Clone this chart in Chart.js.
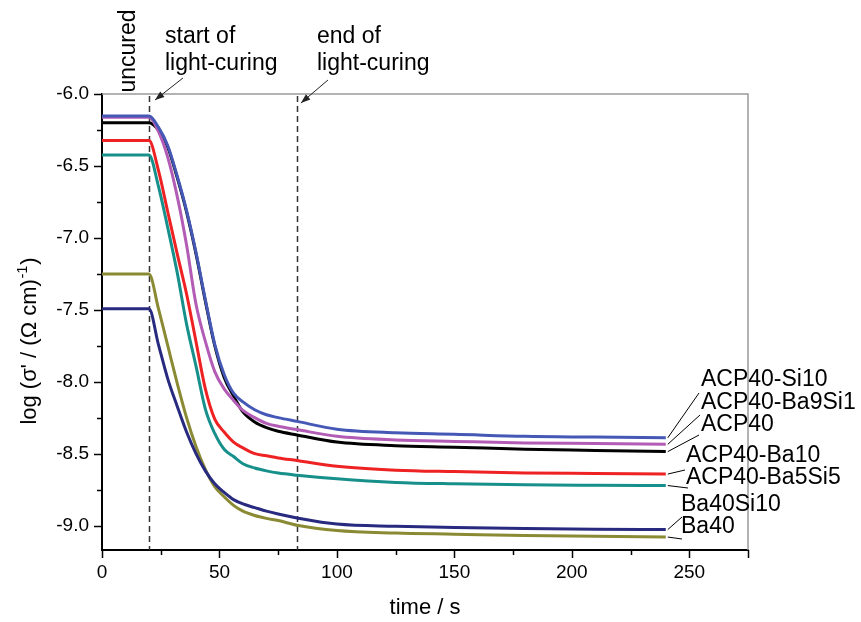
<!DOCTYPE html>
<html>
<head>
<meta charset="utf-8">
<script src="https://cdn.jsdelivr.net/npm/chart.js@4.4.1/dist/chart.umd.min.js"></script>
<style>
    body { margin: 0; background: #fff; }
    canvas { display: block; }
</style>
</head>
<body>
<canvas id="cureChart" width="861" height="622"></canvas>
<script>
// time grid (s) and log conductivity
const times = [0, 20, 24, 28, 32, 36, 40, 44, 48, 52, 56, 60, 65, 70, 75, 83, 100, 125, 150, 180, 210, 240];

const acp40Si10   = [-6.153, -6.153, -6.23, -6.36, -6.57, -6.81, -7.10, -7.43, -7.74, -7.95, -8.08, -8.14, -8.195, -8.23, -8.25, -8.276, -8.33, -8.355, -8.365, -8.38, -8.385, -8.39];
const acp40Ba9Si1 = [-6.162, -6.162, -6.26, -6.44, -6.71, -7.05, -7.46, -7.72, -7.93, -8.05, -8.13, -8.20, -8.25, -8.29, -8.31, -8.333, -8.38, -8.405, -8.415, -8.426, -8.43, -8.435];
const acp40       = [-6.199, -6.199, -6.25, -6.37, -6.58, -6.82, -7.11, -7.44, -7.75, -7.97, -8.10, -8.21, -8.28, -8.32, -8.345, -8.37, -8.42, -8.445, -8.455, -8.47, -8.478, -8.486];
const acp40Ba10   = [-6.324, -6.324, -6.53, -6.82, -7.11, -7.39, -7.72, -8.05, -8.26, -8.35, -8.42, -8.46, -8.50, -8.515, -8.53, -8.548, -8.588, -8.615, -8.625, -8.634, -8.638, -8.642];
const acp40Ba5Si5 = [-6.424, -6.424, -6.64, -6.93, -7.24, -7.60, -7.89, -8.19, -8.36, -8.47, -8.52, -8.57, -8.60, -8.62, -8.635, -8.65, -8.675, -8.70, -8.71, -8.717, -8.72, -8.722];
const ba40Si10    = [-7.493, -7.493, -7.74, -7.98, -8.17, -8.35, -8.50, -8.62, -8.71, -8.77, -8.82, -8.85, -8.875, -8.90, -8.92, -8.947, -8.99, -9.005, -9.013, -9.02, -9.025, -9.028];
const ba40        = [-7.252, -7.252, -7.49, -7.75, -8.01, -8.25, -8.45, -8.61, -8.73, -8.80, -8.86, -8.90, -8.93, -8.95, -8.965, -8.998, -9.035, -9.052, -9.06, -9.07, -9.075, -9.08];

const seriesNames = ['ACP40-Si10', 'ACP40-Ba9Si1', 'ACP40', 'ACP40-Ba10', 'ACP40-Ba5Si5', 'Ba40Si10', 'Ba40'];
const seriesValues = [acp40Si10, acp40Ba9Si1, acp40, acp40Ba10, acp40Ba5Si5, ba40Si10, ba40];

const xTicks = [0, 50, 100, 150, 200, 250];
const xMinor = [25, 75, 125, 175, 225, 275];
const yTicks = [-6.0, -6.5, -7.0, -7.5, -8.0, -8.5, -9.0];
const yMinor = [-6.25, -6.75, -7.25, -7.75, -8.25, -8.75];
const curingStart = 20;
const curingEnd = 83;

document.addEventListener('DOMContentLoaded', () => {
    const ctx = document.getElementById('cureChart').getContext('2d');
    const FONT = '"Liberation Sans", Arial, Helvetica, sans-serif';
    const colors = ['#4558b6', '#b25cb6', '#000000', '#ee2222', '#17908c', '#282a80', '#8a8a34'];

    // where each curve label sits, and where its leader line ends
    const labelSpots = [
        {tx: 701, ty: 386, lx: 699, ly: 393},
        {tx: 701, ty: 409, lx: 700, ly: 415},
        {tx: 701, ty: 431, lx: 699, ly: 435},
        {tx: 686, ty: 462, lx: 685, ly: 470},
        {tx: 686, ty: 484, lx: 688, ly: 488},
        {tx: 681, ty: 511, lx: 682, ly: 517},
        {tx: 681, ty: 533, lx: 682, ly: 539}
    ];

    const datasets = seriesNames.map((name, i) => ({
        label: name,
        data: times.map((t, j) => ({x: t, y: seriesValues[i][j]})),
        borderColor: colors[i],
        borderWidth: 3,
        pointRadius: 0,
        cubicInterpolationMode: 'monotone'
    }));

    const arrow = (c, x1, y1, x2, y2) => {
        c.beginPath();
        c.moveTo(x1, y1);
        c.lineTo(x2, y2);
        c.stroke();
        const a = Math.atan2(y2 - y1, x2 - x1);
        c.beginPath();
        c.moveTo(x2, y2);
        c.lineTo(x2 - 10 * Math.cos(a - 0.35), y2 - 10 * Math.sin(a - 0.35));
        c.lineTo(x2 - 10 * Math.cos(a + 0.35), y2 - 10 * Math.sin(a + 0.35));
        c.closePath();
        c.fill();
    };

    const overlay = {
        id: 'overlay',
        beforeDatasetsDraw(chart) {
            const c = chart.ctx;
            const {top, bottom} = chart.chartArea;
            const xs = chart.scales.x;
            c.save();
            c.strokeStyle = '#333';
            c.lineWidth = 1.5;
            c.setLineDash([6, 4]);
            [curingStart, curingEnd].forEach(t => {
                const px = Math.round(xs.getPixelForValue(t)) + 0.5;
                c.beginPath();
                c.moveTo(px, top + 2);
                c.lineTo(px, bottom);
                c.stroke();
            });
            c.restore();
        },
        afterDraw(chart) {
            const c = chart.ctx;
            const {left, right, top, bottom} = chart.chartArea;
            const xs = chart.scales.x;
            const ys = chart.scales.y;
            c.save();

            // grey top / right frame
            c.strokeStyle = '#9a9a9a';
            c.lineWidth = 1.5;
            c.beginPath();
            c.moveTo(left, top);
            c.lineTo(right, top);
            c.lineTo(right, bottom);
            c.stroke();

            // tick marks
            c.strokeStyle = '#000';
            c.lineWidth = 1.5;
            yTicks.forEach(v => {
                const py = Math.round(ys.getPixelForValue(v)) + 0.5;
                c.beginPath(); c.moveTo(left - 8, py); c.lineTo(left, py); c.stroke();
            });
            yMinor.forEach(v => {
                const py = Math.round(ys.getPixelForValue(v)) + 0.5;
                c.beginPath(); c.moveTo(left - 5, py); c.lineTo(left, py); c.stroke();
            });
            xTicks.forEach(v => {
                const px = Math.round(xs.getPixelForValue(v)) + 0.5;
                c.beginPath(); c.moveTo(px, bottom); c.lineTo(px, bottom + 8); c.stroke();
            });
            xMinor.forEach(v => {
                const px = Math.round(xs.getPixelForValue(v)) + 0.5;
                c.beginPath(); c.moveTo(px, bottom); c.lineTo(px, bottom + (v === 275 ? 8 : 5)); c.stroke();
            });

            c.fillStyle = '#000';

            // axis titles
            c.font = '22px ' + FONT;
            c.textAlign = 'center';
            c.textBaseline = 'alphabetic';
            c.fillText('time / s', (left + right) / 2, 614);

            c.save();
            c.translate(36, 341);
            c.rotate(-Math.PI / 2);
            const partA = "log (σ' / (Ω cm)";
            const sup = '-1';
            const partB = ')';
            c.font = '22px ' + FONT;
            const wA = c.measureText(partA).width;
            const wB = c.measureText(partB).width;
            c.font = '14px ' + FONT;
            const wS = c.measureText(sup).width;
            let x0 = -(wA + wS + wB + 2) / 2;
            c.textAlign = 'left';
            c.font = '22px ' + FONT;
            c.fillText(partA, x0, 0);
            c.font = '14px ' + FONT;
            c.fillText(sup, x0 + wA + 1, -9);
            c.font = '22px ' + FONT;
            c.fillText(partB, x0 + wA + wS + 2, 0);
            c.restore();

            // curing annotations
            c.font = '23px ' + FONT;
            c.textAlign = 'left';
            c.fillText('start of', 165, 43);
            c.fillText('light-curing', 165, 70);
            c.fillText('end of', 317, 43);
            c.fillText('light-curing', 317, 70);

            c.save();
            c.translate(135, 51);
            c.rotate(-Math.PI / 2);
            c.textAlign = 'center';
            c.fillText('uncured', 0, 0);
            c.restore();

            c.strokeStyle = '#222';
            c.fillStyle = '#222';
            c.lineWidth = 1;
            const sx = xs.getPixelForValue(curingStart);
            const ex = xs.getPixelForValue(curingEnd);
            arrow(c, sx + 34, top - 16, sx + 6, top + 6);
            arrow(c, ex + 31, top - 14, ex + 4, top + 9);

            // curve labels with leader lines
            c.fillStyle = '#000';
            c.strokeStyle = '#000';
            c.lineWidth = 1;
            c.font = '23px ' + FONT;
            const endX = xs.getPixelForValue(times[times.length - 1]) + 2;
            seriesNames.forEach((name, i) => {
                const spot = labelSpots[i];
                const vals = seriesValues[i];
                const endY = ys.getPixelForValue(vals[vals.length - 1]);
                c.beginPath();
                c.moveTo(endX, endY);
                c.lineTo(spot.lx, spot.ly);
                c.stroke();
                c.fillText(name, spot.tx, spot.ty);
            });

            c.restore();
        }
    };

    new Chart(ctx, {
        type: 'line',
        data: {datasets},
        options: {
            responsive: false,
            animation: false,
            devicePixelRatio: 1,
            layout: {padding: {top: 94, right: 113, left: 0, bottom: 0}},
            plugins: {legend: {display: false}, tooltip: {enabled: false}},
            scales: {
                x: {
                    type: 'linear',
                    min: 0,
                    max: 275,
                    afterBuildTicks: s => { s.ticks = xTicks.map(v => ({value: v})); },
                    afterFit: s => { s.height = 72; },
                    grid: {display: false, drawTicks: false},
                    border: {display: true, color: '#000', width: 2},
                    ticks: {
                        padding: 11,
                        color: '#000',
                        maxRotation: 0,
                        autoSkip: false,
                        font: {family: FONT, size: 19}
                    }
                },
                y: {
                    type: 'linear',
                    min: -9.17,
                    max: -6.0,
                    afterBuildTicks: s => { s.ticks = yTicks.map(v => ({value: v})); },
                    afterFit: s => { s.width = 102; },
                    grid: {display: false, drawTicks: false},
                    border: {display: true, color: '#000', width: 2},
                    ticks: {
                        padding: 13,
                        color: '#000',
                        font: {family: FONT, size: 19},
                        callback: v => v.toFixed(1)
                    }
                }
            }
        },
        plugins: [overlay]
    });
});
</script>
</body>
</html>
